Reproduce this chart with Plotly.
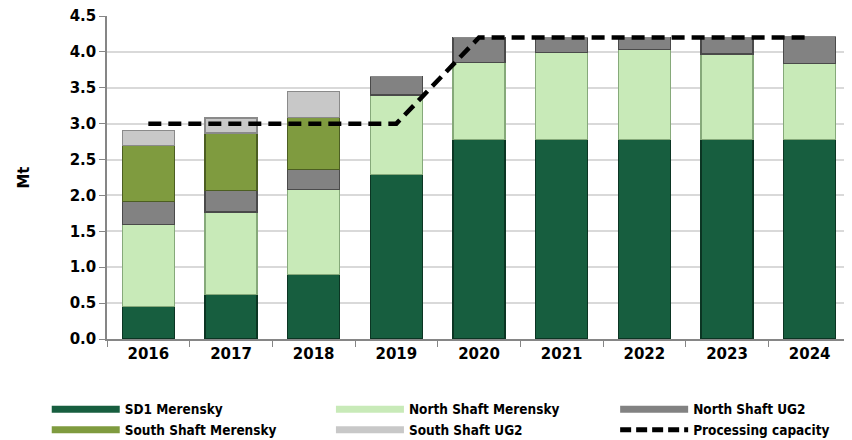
import plotly.graph_objects as go

years = ["2016", "2017", "2018", "2019", "2020", "2021", "2022", "2023", "2024"]

sd1_merensky = [0.45, 0.62, 0.90, 2.29, 2.78, 2.78, 2.78, 2.78, 2.78]
north_merensky = [1.15, 1.15, 1.18, 1.11, 1.07, 1.21, 1.25, 1.19, 1.06]
north_ug2 = [0.32, 0.30, 0.28, 0.26, 0.35, 0.21, 0.17, 0.23, 0.37]
south_merensky = [0.78, 0.80, 0.73, 0, 0, 0, 0, 0, 0]
south_ug2 = [0.21, 0.21, 0.36, 0, 0, 0, 0, 0, 0]
capacity = [3.0, 3.0, 3.0, 3.0, 4.2, 4.2, 4.2, 4.2, 4.2]

# name, values, fill, edge, legend column
series = [
    ("SD1 Merensky", sd1_merensky, "#175e3f", "#0b3523", "legend"),
    ("North Shaft Merensky", north_merensky, "#c8eab8", "#86a97a", "legend2"),
    ("North Shaft UG2", north_ug2, "#828282", "#4a4a4a", "legend3"),
    ("South Shaft Merensky", south_merensky, "#7f9b3f", "#4c5e22", "legend"),
    ("South Shaft UG2", south_ug2, "#c8c8c8", "#8a8a8a", "legend2"),
]

fig = go.Figure()
for name, vals, col, edge, leg in series:
    fig.add_trace(go.Bar(
        x=years, y=vals, name=name, showlegend=False,
        marker=dict(color=col, line=dict(color=edge, width=1.2)),
    ))

fig.add_trace(go.Scatter(
    x=years, y=capacity, name="Processing capacity", showlegend=False,
    mode="lines",
    line=dict(color="black", width=4.5, dash="13px,7px"),
))

# wide flat legend keys like the original
for name, vals, col, edge, leg in series:
    fig.add_trace(go.Scatter(
        x=[None], y=[None], name=name, mode="lines", legend=leg,
        line=dict(color=col, width=7),
    ))
fig.add_trace(go.Scatter(
    x=[None], y=[None], name="Processing capacity", mode="lines", legend="legend3",
    line=dict(color="black", width=5, dash="11px,5px"),
))

leg_font = dict(family="DejaVu Sans Condensed, DejaVu Sans", size=13.5, weight="bold")
leg_common = dict(orientation="v", yref="paper", y=-0.17, yanchor="top",
                  xanchor="left", itemwidth=68, font=leg_font, tracegroupgap=0,
                  traceorder="normal", bgcolor="rgba(0,0,0,0)")

# page body has an 8px margin, so the figure is 8px smaller than the window
fig.update_layout(
    width=844, height=432,
    barmode="stack", bargap=0.37,
    plot_bgcolor="white", paper_bgcolor="white",
    margin=dict(l=99, r=1, t=8, b=101, autoexpand=False),
    font=dict(family="DejaVu Sans", color="black"),
    legend=dict(x=-0.081, **leg_common),
    legend2=dict(x=0.301, **leg_common),
    legend3=dict(x=0.683, **leg_common),
    xaxis=dict(
        showgrid=False, showline=True, linecolor="#868686", linewidth=1.5,
        ticks="outside", tickson="boundaries", ticklen=6, tickcolor="#868686",
        tickfont=dict(size=15, weight="bold"), automargin=False,
    ),
    yaxis=dict(
        range=[0, 4.5], dtick=0.5, tickformat=".1f",
        showgrid=True, gridcolor="#d9d9d9", gridwidth=1.5,
        showline=True, linecolor="#868686", linewidth=1.5,
        ticks="outside", ticklen=6, tickcolor="#868686",
        tickfont=dict(size=15, weight="bold"), ticklabeloverflow="allow",
        title=dict(text="Mt", font=dict(size=15, weight="bold"), standoff=36),
        zeroline=False, automargin=False,
    ),
)

fig.write_html("out.html")
